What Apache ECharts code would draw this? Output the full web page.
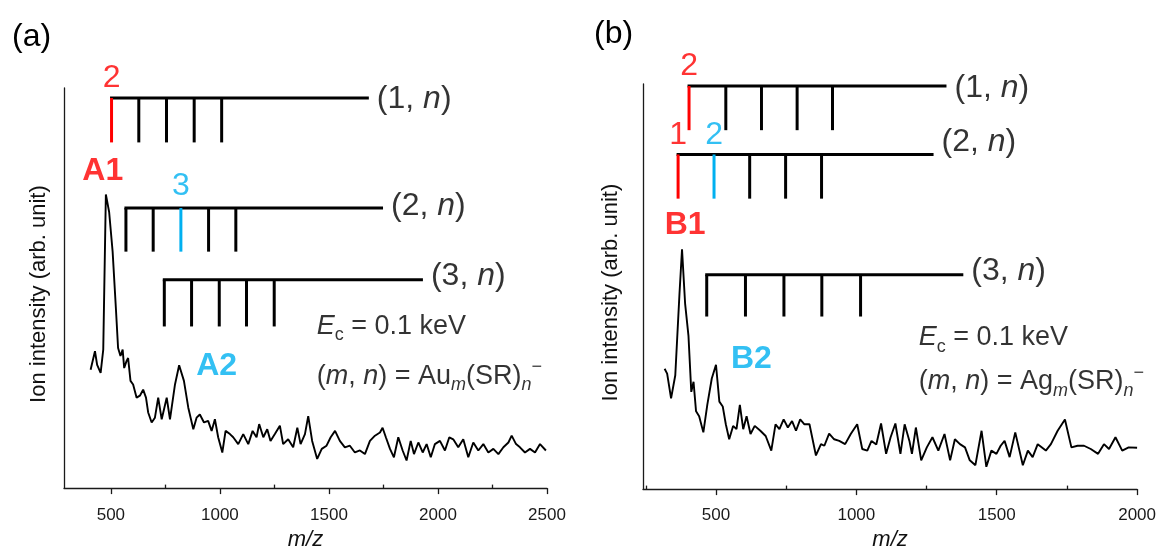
<!DOCTYPE html>
<html><head><meta charset="utf-8">
<script src="https://cdn.jsdelivr.net/npm/echarts@6/dist/echarts.min.js"></script>
<style>html,body{margin:0;padding:0;background:#fff}#c{width:1159px;height:556px}</style>
</head><body><div id="c"></div>
<script>
// ---------- Panel (a): Au spectrum ----------
const mzA = [407,427,437,453,465,477,492,508,523,533,544,554,561,572,579,590,602,618,633,648,661,671,687,702,717,733,756,771,794,813,835,855,878,893,908,927,946,962,977,992,1011,1026,1046,1061,1084,1107,1130,1150,1168,1180,1199,1217,1232,1252,1275,1290,1313,1336,1355,1370,1390,1405,1423,1446,1467,1489,1508,1528,1550,1573,1596,1619,1642,1665,1688,1711,1734,1746,1761,1780,1798,1818,1838,1856,1875,1890,1910,1930,1948,1967,1986,2009,2032,2052,2070,2093,2116,2139,2162,2185,2208,2231,2254,2277,2300,2323,2338,2358,2376,2399,2422,2445,2468,2495];
const intA = [29.6,34.2,30.8,28.8,34.6,73.4,69.0,59.1,44.9,35.0,33.0,34.6,30.0,31.8,32.5,26.8,25.9,22.6,23.1,24.6,22.6,18.9,16.4,17.6,22.6,17.2,22.6,17.2,25.9,30.7,26.8,20.1,14.7,17.6,18.4,16.4,16.8,14.3,17.2,12.7,8.9,14.3,13.5,12.7,11.0,13.5,11.0,14.3,12.7,16.0,12.7,14.7,11.8,13.5,15.6,11.0,12.2,10.2,15.1,11.0,13.5,18.0,11.8,7.3,9.8,10.6,12.7,14.3,11.8,10.2,10.6,8.9,9.4,8.5,11.8,13.1,13.9,15.1,12.7,9.8,7.7,12.7,9.4,6.9,11.8,8.5,11.4,8.9,11.0,7.7,11.0,11.8,9.4,12.7,12.2,10.2,12.2,7.7,11.4,9.4,11.0,8.9,9.8,8.5,10.2,11.4,13.1,11.0,10.2,8.9,9.8,8.9,11.0,9.4];
const axisA = {min: 285, max: 2500};
const majorTicksA = [500, 1000, 1500, 2000, 2500];
const minorTicksA = [750, 1250, 1750, 2250];
// assignment ladders (m = 1, 2, 3)
const ladderTicksA = [[503,628,755,882,1008],[569,694,821,948,1073],[745,870,997,1122,1249]];
const ladderEndA = [1683, 1748, 1931];
const ladderLevelA = [97.5, 70.0, 52.1];
const ladderFootA = [86.4, 59.1, 40.4];
const ladderTextLevelA = [97.3, 70.5, 52.9];
const ladderNamesA = ['1', '2', '3'];
const ladderMarksA = [{ladder:0, tick:0, text:'2', color:'red', level:102.5},
                      {ladder:1, tick:2, text:'3', color:'blue', level:75.4}];
const peakTagsA = [{text:'A1', mz:463, val:79.2, color:'red'}, {text:'A2', mz:985, val:30.4, color:'blue'}];
const noteAnchorA = {mz:1444, ec:40.4, formula:28.0};

// ---------- Panel (b): Ag spectrum ----------
const mzB = [317,326,340,355,370,379,390,402,412,420,429,440,455,469,485,500,512,524,535,547,561,573,585,597,609,623,638,658,677,697,712,726,741,756,771,785,800,815,833,856,874,886,903,921,939,960,980,1003,1021,1039,1054,1071,1088,1106,1122,1139,1157,1172,1189,1198,1212,1231,1251,1271,1292,1314,1334,1351,1369,1387,1404,1424,1446,1463,1481,1499,1514,1528,1546,1566,1593,1611,1628,1646,1675,1693,1717,1743,1766,1788,1811,1835,1861,1882,1900,1923,1947,1970,2000];
const intB = [29.7,28.5,22.4,28.1,48.3,59.2,45.8,37.8,24.0,26.5,19.2,18.0,14.0,20.8,27.3,30.7,21.6,20.4,16.0,12.3,15.6,14.8,20.8,14.8,18.0,13.6,15.6,14.4,13.1,9.5,16.0,14.8,17.2,15.2,16.8,14.4,17.2,16.0,16.0,8.3,11.1,10.7,13.7,12.3,11.9,11.1,13.6,16.0,9.9,9.5,11.9,11.0,16.2,8.7,12.8,16.2,8.7,16.0,11.9,8.7,15.2,7.1,10.3,12.8,9.5,13.6,7.1,12.3,11.1,10.3,7.1,5.9,14.4,5.5,9.5,8.7,10.7,11.9,7.9,14.0,5.9,9.5,7.9,11.1,9.5,11.1,14.4,17.2,10.3,10.7,10.7,9.9,8.7,11.1,9.9,12.8,9.5,10.3,10.2];
const axisB = {min: 240, max: 2000};
const majorTicksB = [500, 1000, 1500, 2000];
const minorTicksB = [250, 750, 1250, 1750];
const ladderTicksB = [[404,535,662,789,915],[365,493,620,748,876],[467,605,742,877,1015]];
const ladderEndB = [1321, 1275, 1381];
const ladderLevelB = [99.5, 82.6, 52.9];
const ladderFootB = [88.6, 71.7, 42.6];
const ladderTextLevelB = [99.0, 85.7, 53.8];
const ladderNamesB = ['1', '2', '3'];
const ladderMarksB = [{ladder:0, tick:0, text:'2', color:'red', level:104.4},
                      {ladder:1, tick:0, text:'1', color:'red', level:87.4},
                      {ladder:1, tick:1, text:'2', color:'blue', level:87.4}];
const peakTagsB = [{text:'B1', mz:390, val:65.1, color:'red'}, {text:'B2', mz:626, val:32.1, color:'blue'}];
const noteAnchorB = {mz:1222, ec:37.4, formula:26.5};

// ---------- styling ----------
const FONT = '"Liberation Sans", Arial, sans-serif';
const COL = {black:'#000000', red:'#FF0000', blue:'#00B0F0'};
const AXC = '#1a1a1a';

function ladderSegments(ticks, ends, levels, feet, marks) {
  const segs = [];
  ticks.forEach((tk, i) => {
    segs.push([tk[0], levels[i], ends[i], levels[i], 'black']);
    tk.forEach((t, j) => {
      const mk = marks.find(m => m.ladder === i && m.tick === j);
      segs.push([t, levels[i], t, feet[i], mk ? mk.color : 'black']);
    });
  });
  return segs;
}

function ladderSeries(idx, segs) {
  return {
    type: 'custom', xAxisIndex: idx * 2, yAxisIndex: idx, silent: true,
    data: segs.map(s => ({value: [s[0], s[1], s[2], s[3]]})),
    encode: {x: [0, 2], y: [1, 3]},
    renderItem: (params, api) => {
      const p1 = api.coord([api.value(0), api.value(1)]);
      const p2 = api.coord([api.value(2), api.value(3)]);
      const c = segs[params.dataIndex][4];
      const horiz = Math.abs(p1[1] - p2[1]) < 0.5;
      return {type: 'line',
        shape: {x1: p1[0] - (horiz ? 1.5 : 0), y1: p1[1], x2: p2[0], y2: p2[1]},
        style: {stroke: COL[c], lineWidth: 3, lineCap: 'butt'}};
    }
  };
}

const big = 32;
function textSeries(idx, ticks, ends, textLevels, names, marks, tags, note, metal) {
  const data = [];
  names.forEach((n, i) => {
    data.push({value: [ends[i], textLevels[i]], label: {
      show: true, position: 'right', distance: 8,
      formatter: '(' + n + ', {i|n})',
      fontSize: big, fontFamily: FONT, color: '#000',
      rich: {i: {fontStyle: 'italic', fontSize: big, fontFamily: FONT, color: '#000'}}
    }});
  });
  marks.forEach(m => {
    data.push({value: [ticks[m.ladder][m.tick], m.level], label: {
      show: true, position: 'inside', formatter: m.text,
      fontSize: big, fontFamily: FONT, color: COL[m.color]
    }});
  });
  tags.forEach(t => {
    data.push({value: [t.mz, t.val], label: {
      show: true, position: 'inside', formatter: t.text,
      fontSize: big, fontWeight: 'bold', fontFamily: FONT, color: COL[t.color]
    }});
  });
  const fs = 27, sfs = 18;
  const rich = {
    i: {fontStyle: 'italic', fontSize: fs, fontFamily: FONT, color: '#000', lineHeight: 36},
    r: {fontSize: fs, fontFamily: FONT, color: '#000', lineHeight: 36},
    s: {fontSize: sfs, fontFamily: FONT, color: '#000', lineHeight: sfs, verticalAlign: 'bottom'},
    si: {fontStyle: 'italic', fontSize: sfs, fontFamily: FONT, color: '#000', lineHeight: sfs, verticalAlign: 'bottom'},
    sup: {fontSize: sfs, fontFamily: FONT, color: '#000', lineHeight: sfs, verticalAlign: 'top'}
  };
  data.push({value: [note.mz, note.ec], label: {
    show: true, position: 'right', distance: 0,
    formatter: '{i|E}{s|c}{r| = 0.1 keV}', rich: rich
  }});
  data.push({value: [note.mz, note.formula], label: {
    show: true, position: 'right', distance: 0,
    formatter: '{r|(}{i|m}{r|, }{i|n}{r|) = ' + metal + '}{si|m}{r|(SR)}{si|n}{sup|\u2212}', rich: rich
  }});
  return {type: 'scatter', xAxisIndex: idx * 2, yAxisIndex: idx, symbolSize: 0, clip: false,
    silent: true, data: data, z: 5};
}

function xAxes(gi, ax, major, minor, nameGap, margin) {
  return [{
    gridIndex: gi, type: 'value', min: ax.min, max: ax.max,
    axisLine: {show: true, onZero: false, lineStyle: {color: AXC, width: 1.3}},
    axisTick: {show: true, customValues: major, length: 6, lineStyle: {color: AXC, width: 1.3}},
    axisLabel: {show: true, customValues: major, fontSize: 17, fontFamily: FONT, color: '#1a1a1a',
                margin: margin, formatter: v => String(v)},
    splitLine: {show: false},
    name: 'm/z', nameLocation: 'middle', nameGap: nameGap,
    nameTextStyle: {fontStyle: 'italic', fontSize: 22, fontFamily: FONT, color: '#111'}
  }, {
    gridIndex: gi, type: 'value', min: ax.min, max: ax.max,
    axisLine: {show: false},
    axisTick: {show: true, customValues: minor, length: 3.5, lineStyle: {color: AXC, width: 1.3}},
    axisLabel: {show: false}, splitLine: {show: false}
  }];
}

function yAxis(gi, gap) {
  return {gridIndex: gi, type: 'value', min: 0, max: 100,
    axisLine: {show: true, lineStyle: {color: AXC, width: 1.3}},
    axisTick: {show: false}, axisLabel: {show: false}, splitLine: {show: false},
    name: 'Ion intensity (arb. unit)', nameLocation: 'middle', nameGap: gap,
    nameTextStyle: {fontSize: 22, fontFamily: FONT, color: '#111', padding: [0, 0, 0, -12]}};
}

const option = {
  backgroundColor: '#fff',
  animation: false,
  grid: [{left: 64, top: 88, width: 483, height: 403},
         {left: 643, top: 84, width: 497, height: 412}],
  xAxis: [...xAxes(0, axisA, majorTicksA, minorTicksA, 40, 19),
          ...xAxes(1, axisB, majorTicksB, minorTicksB, 38, 18)],
  yAxis: [yAxis(0, 14), yAxis(1, 21)],
  graphic: [
    {type: 'text', left: 12, top: 21, style: {text: '(a)', fontSize: 32, fontFamily: FONT, fill: '#000'}},
    {type: 'text', left: 594, top: 18, style: {text: '(b)', fontSize: 32, fontFamily: FONT, fill: '#000'}}
  ],
  series: [
    {type: 'line', xAxisIndex: 0, yAxisIndex: 0, showSymbol: false, silent: true,
     data: mzA.map((m, i) => [m, intA[i]]), lineStyle: {color: '#000', width: 1.9}},
    {type: 'line', xAxisIndex: 2, yAxisIndex: 1, showSymbol: false, silent: true,
     data: mzB.map((m, i) => [m, intB[i]]), lineStyle: {color: '#000', width: 1.9}},
    ladderSeries(0, ladderSegments(ladderTicksA, ladderEndA, ladderLevelA, ladderFootA, ladderMarksA)),
    ladderSeries(1, ladderSegments(ladderTicksB, ladderEndB, ladderLevelB, ladderFootB, ladderMarksB)),
    textSeries(0, ladderTicksA, ladderEndA, ladderTextLevelA, ladderNamesA, ladderMarksA, peakTagsA, noteAnchorA, 'Au'),
    textSeries(1, ladderTicksB, ladderEndB, ladderTextLevelB, ladderNamesB, ladderMarksB, peakTagsB, noteAnchorB, 'Ag')
  ]
};
const chart = echarts.init(document.getElementById('c'), null, {renderer: 'canvas'});
chart.setOption(option);
</script></body></html>
